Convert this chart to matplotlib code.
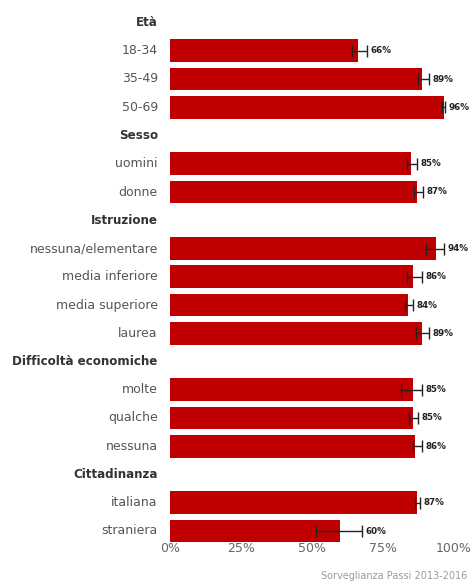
import matplotlib
matplotlib.use("Agg")
import matplotlib.pyplot as plt
import numpy as np

# gruppi e categorie
groups = ["Età", "Sesso", "Istruzione", "Difficoltà economiche", "Cittadinanza"]
categories = [
    ["18-34", "35-49", "50-69"],
    ["uomini", "donne"],
    ["nessuna/elementare", "media inferiore", "media superiore", "laurea"],
    ["molte", "qualche", "nessuna"],
    ["italiana", "straniera"],
]
# valori (%) con intervallo di confidenza
values = [
    [66.2, 88.7, 96.4],
    [84.7, 86.9],
    [93.5, 85.7, 83.9, 88.8],
    [85.4, 85.4, 86.4],
    [86.9, 59.9],
]
ci_low = [
    [64.0, 87.3, 95.8],
    [83.5, 85.8],
    [90.0, 83.5, 82.9, 86.5],
    [81.5, 84.2, 85.7],
    [86.3, 51.4],
]
ci_high = [
    [69.4, 91.2, 96.9],
    [86.9, 89.2],
    [96.6, 88.9, 85.7, 91.2],
    [88.9, 87.4, 88.6],
    [88.2, 67.7],
]
xticks = [0, 25, 50, 75, 100]
source = "Sorveglianza Passi 2013-2016"

red = "#c00000"

# riga 0 a y=22.5 px, riga 18 a y=531 px
pitch = (531 - 22.5) / 18
top = -0.6
bottom = 18.5
y_top = 22.5 + top * pitch
y_bot = 22.5 + bottom * pitch

fig = plt.figure(figsize=(4.71, 5.83), dpi=100)
ax = fig.add_axes([170 / 471, 1 - y_bot / 583, 284 / 471, (y_bot - y_top) / 583])

row = 0
for g, cats, vals, lo, hi in zip(groups, categories, values, ci_low, ci_high):
    ax.text(-4.3, row, g, ha="right", va="center", fontsize=8.6,
            fontweight="bold", color="#333333")
    row += 1
    for c, v, l, h in zip(cats, vals, lo, hi):
        ax.barh(row, v, height=0.81, color=red)
        ax.errorbar(v, row, xerr=[[v - l], [h - v]], fmt="none",
                    ecolor="#222222", elinewidth=1.0, capsize=4.5, capthick=1.0)
        ax.text(h + 1.2, row, f"{round(v)}%", ha="left", va="center",
                fontsize=6.3, fontweight="bold", color="#222222")
        ax.text(-4.3, row, c, ha="right", va="center", fontsize=9,
                color="#555555")
        row += 1

ax.set_xlim(0, 100)
ax.set_ylim(bottom, top)
ax.set_xticks(xticks)
ax.set_xticklabels([f"{t}%" for t in xticks], fontsize=9, color="#666666")
ax.tick_params(axis="x", length=0, pad=-2)
ax.set_yticks([])
for s in ax.spines.values():
    s.set_visible(False)

fig.text(467 / 471, 1 - 576 / 583, source, ha="right", va="center",
         fontsize=7, color="#9a9a9a")

fig.savefig("out.png", dpi=100)
